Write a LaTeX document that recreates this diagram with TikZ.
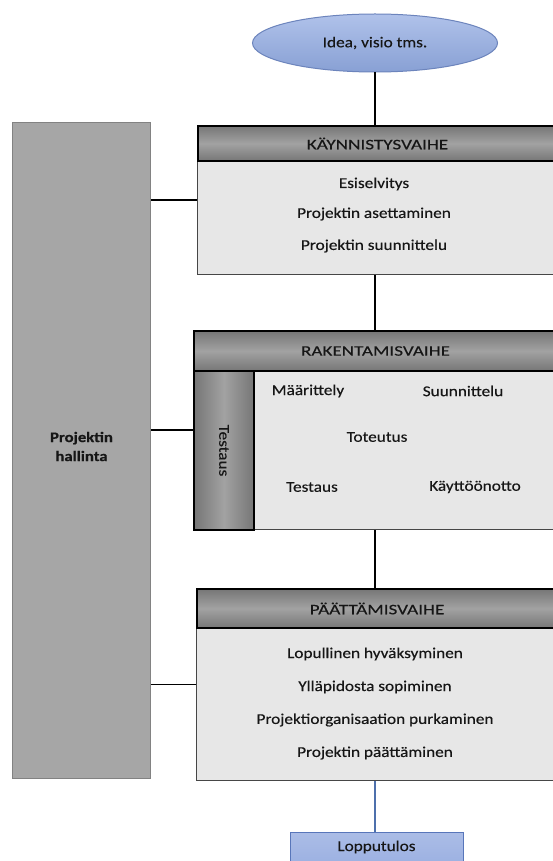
\documentclass[tikz,border=0pt]{standalone}
\usepackage{fontspec}
\setmainfont{Carlito}[FakeStretch=1.15, FakeBold=0.3]
\newfontfamily\hdrfont{Carlito}[FakeStretch=1.32, FakeBold=0.3]
\usetikzlibrary{shapes.geometric}

\definecolor{inkc}{RGB}{22,22,22}
\definecolor{hdredge}{RGB}{118,118,118}
\definecolor{hdrmid}{RGB}{162,162,162}
\definecolor{bodyfill}{RGB}{231,231,231}
\definecolor{bodyline}{RGB}{70,70,70}
\definecolor{barfill}{RGB}{166,166,166}
\definecolor{baredge}{RGB}{130,130,130}
\definecolor{ovaltop}{RGB}{176,194,234}
\definecolor{ovalbot}{RGB}{136,160,212}
\definecolor{ovalline}{RGB}{108,132,188}
\definecolor{resfill}{RGB}{150,172,224}
\definecolor{resline}{RGB}{88,118,186}
\definecolor{bluewire}{RGB}{78,112,172}

\tikzset{
  txt/.style={font=\fontsize{15}{17}\selectfont, text=inkc, inner sep=0pt},
  header/.style={draw=black, line width=2pt, shading=axis,
    top color=hdredge, bottom color=hdredge, middle color=hdrmid,
    txt, font=\hdrfont\fontsize{14.5}{16}\selectfont, anchor=north west},
  panel/.style={draw=bodyline, line width=1pt, fill=bodyfill, anchor=north west},
  wire/.style={draw=black, line width=2pt},
  sidewire/.style={draw=black, line width=1.5pt},
}

\begin{document}
\begin{tikzpicture}[x=1pt, y=-1pt]
\useasboundingbox (0,0) rectangle (552,861);
\fill[white] (0,0) rectangle (552,861);

% start oval
\node[ellipse, draw=ovalline, line width=1pt, top color=ovaltop, bottom color=ovalbot,
      minimum width=245pt, minimum height=58pt, txt] (idea) at (375,43) {Idea, visio tms.};

% project management column
\node[draw=baredge, line width=1pt, fill=barfill, anchor=north west,
      minimum width=138pt, minimum height=656pt] (bar) at (12,122) {};
\node[txt, font=\fontsize{14.5}{19}\selectfont\bfseries, align=center] (barlbl)
      at ([yshift=4pt]bar.center) {Projektin\\hallinta};

% stage 1
\node[panel, minimum width=359pt, minimum height=149pt] (st1) at (197,125) {};
\node[header, minimum width=359pt, minimum height=35pt] (h1) at (197,125) {KÄYNNISTYSVAIHE};
\node[txt] (e1) at (374,184) {Esiselvitys};
\node[txt] (e2) at (374,214) {Projektin asettaminen};
\node[txt] (e3) at (374,246) {Projektin suunnittelu};

% stage 2
\node[panel, minimum width=363pt, minimum height=199pt] (st2) at (193,330) {};
\node[header, minimum width=363pt, minimum height=40pt] (h2) at (193,330) {RAKENTAMISVAIHE};
\node[draw=black, line width=2pt, shading=axis, left color=hdredge, right color=hdredge,
      middle color=hdrmid, anchor=north west, minimum width=60pt, minimum height=159pt]
      (test) at (193,370) {};
\node[txt, rotate=-90] (testlbl) at (test.center) {Testaus};
\node[txt] (r1) at (308,391) {Määrittely};
\node[txt] (r2) at (463,391) {Suunnittelu};
\node[txt] (r3) at (377,437) {Toteutus};
\node[txt] (r4) at (312,487) {Testaus};
\node[txt] (r5) at (475,487) {Käyttöönotto};

% stage 3
\node[panel, minimum width=360pt, minimum height=192pt] (st3) at (196,588) {};
\node[header, minimum width=360pt, minimum height=39pt] (h3) at (196,588) {PÄÄTTÄMISVAIHE};
\node[txt] (p1) at (375,654) {Lopullinen hyväksyminen};
\node[txt] (p2) at (375,687) {Ylläpidosta sopiminen};
\node[txt] (p3) at (375,720) {Projektiorganisaation purkaminen};
\node[txt] (p4) at (375,753) {Projektin päättäminen};

% result
\node[draw=resline, line width=1pt, top color=resfill!80!white, bottom color=resfill,
      anchor=north west, minimum width=173pt, minimum height=44pt] (lop) at (290,832) {};
\node[txt] (loplbl) at (376.5,847) {Lopputulos};

% flow connectors
\draw[wire] (idea.south) -- (idea.south |- h1.north);
\draw[wire] (idea.south |- st1.south) -- (idea.south |- h2.north);
\draw[wire] (idea.south |- st2.south) -- (idea.south |- h3.north);
\draw[draw=bluewire, line width=2.5pt] (idea.south |- st3.south) -- (idea.south |- lop.north);

% management links
\draw[sidewire] (bar.east |- st1.west) -- (st1.west);
\draw[sidewire] (bar.east |- st2.west) -- (st2.west);
\draw[sidewire] (bar.east |- st3.west) -- (st3.west);
\end{tikzpicture}
\end{document}
